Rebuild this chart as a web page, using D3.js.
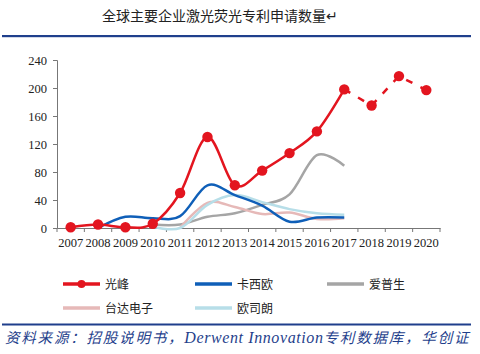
<!DOCTYPE html>
<html>
<head>
<meta charset="utf-8">
<script src="https://cdn.jsdelivr.net/npm/d3@7"></script>
<style>
  html, body { margin: 0; padding: 0; background: #fff; }
  svg { display: block; }
</style>
</head>
<body>
<svg id="chart"></svg>
<script>
// 年份
const years = ["2007","2008","2009","2010","2011","2012","2013","2014","2015","2016","2017","2018","2019","2020"];
const yTicks = [0, 40, 80, 120, 160, 200, 240];

// 各企业数据（null = 无数据）
const guangfeng = [1, 5, 1, 6, 50, 130, 61, 82, 107, 138, 198, 175, 217, 197];
const casio     = [null, 0, 16, 14, 17, 61, 47, 32, 9, 15, 15, null, null, null];
const epson     = [null, null, null, 5, 5, 16, 21, 33, 48, 104, 89, null, null, null];
const delta     = [null, null, null, null, 0, 36, 30, 20, 22, 13, 14, null, null, null];
const osram     = [null, null, null, 2, 0, 33, 47, 37, 27, 21, 19, null, null, null];

const seriesNames = ["光峰", "卡西欧", "爱普生", "台达电子", "欧司朗"];
const seriesColors = ["#e3151f", "#0f5fb8", "#a5a5a5", "#e6b9b8", "#b7dee8"];
const lastSolid = "2017"; // 之后为预测（虚线）

const width = 480, height = 354;
const svg = d3.select("#chart").attr("width", width).attr("height", height);

const serif = "'Liberation Serif', 'Times New Roman', serif";
const cjk = "'Noto Sans CJK SC', sans-serif";

// 标题
svg.append("text")
    .attr("x", 102).attr("y", 21)
    .attr("font-family", cjk)
    .attr("font-size", "14px")
    .attr("fill", "#222")
    .text("全球主要企业激光荧光专利申请数量↵");

// 上下横线
svg.append("rect").attr("x", 2).attr("y", 35).attr("width", 469).attr("height", 2.2).attr("fill", "#1f3f8c");
svg.append("rect").attr("x", 2).attr("y", 323.5).attr("width", 469).attr("height", 2).attr("fill", "#1f3f8c");

// 比例尺
const x = d3.scaleBand().domain(years).range([57, 440]).padding(0);
const y = d3.scaleLinear().domain([0, 240]).range([228, 60]);
const cx = d => x(d) + x.bandwidth() / 2;

// y轴
const yAxis = svg.append("g")
    .attr("transform", "translate(57,0)")
    .call(d3.axisLeft(y).tickValues(yTicks).tickSize(4).tickPadding(6));
yAxis.select(".domain").attr("stroke", "#777");
yAxis.selectAll(".tick line").attr("stroke", "#777");
yAxis.selectAll("text").attr("font-family", serif).attr("font-size", "12.5px").attr("fill", "#222");

// x轴
const xAxis = svg.append("g")
    .attr("transform", "translate(0,228)")
    .call(d3.axisBottom(x).tickSize(0).tickPadding(10));
xAxis.select(".domain").attr("stroke", "#777");
xAxis.selectAll("text").attr("font-family", serif).attr("font-size", "12.5px").attr("fill", "#222");
xAxis.selectAll(".edge")
    .data(years.map(d => x(d)).concat([x.range()[1]]))
    .enter().append("line")
    .attr("x1", d => d).attr("x2", d => d)
    .attr("y1", 0).attr("y2", 4)
    .attr("stroke", "#777");

// 折线
const line = d3.line()
    .defined(d => d.v !== null)
    .x(d => cx(d.year))
    .y(d => y(d.v))
    .curve(d3.curveCardinal.tension(0));

const toPts = arr => years.map((year, i) => ({ year, v: arr[i] }));
const allSeries = [guangfeng, casio, epson, delta, osram];
const drawOrder = [2, 3, 4, 1, 0];

drawOrder.forEach(k => {
    let pts = toPts(allSeries[k]);
    if (k === 0) pts = pts.filter(d => +d.year <= +lastSolid);
    svg.append("path")
        .datum(pts)
        .attr("d", line)
        .attr("fill", "none")
        .attr("stroke", seriesColors[k])
        .attr("stroke-width", 2.5);
});

// 光峰预测部分（虚线）
const future = toPts(guangfeng).filter(d => +d.year >= +lastSolid);
svg.append("path")
    .datum(future)
    .attr("d", d3.line().x(d => cx(d.year)).y(d => y(d.v)))
    .attr("fill", "none")
    .attr("stroke", seriesColors[0])
    .attr("stroke-width", 2.5)
    .attr("stroke-dasharray", "7,9");

svg.selectAll("circle.gf")
    .data(toPts(guangfeng))
    .enter().append("circle")
    .attr("class", "gf")
    .attr("cx", d => cx(d.year))
    .attr("cy", d => y(d.v))
    .attr("r", 5.2)
    .attr("fill", seriesColors[0]);

// 图例
const legendPos = [[63, 284], [195, 284], [327, 284], [63, 308], [195, 308]];
seriesNames.forEach((name, i) => {
    const [lx, ly] = legendPos[i];
    const g = svg.append("g").attr("transform", `translate(${lx},${ly})`);
    g.append("line")
        .attr("x1", 0).attr("x2", 37)
        .attr("stroke", seriesColors[i])
        .attr("stroke-width", 3.5);
    if (i === 0) g.append("circle").attr("cx", 18.5).attr("r", 4).attr("fill", seriesColors[0]);
    g.append("text")
        .attr("x", 42).attr("y", 4.5)
        .attr("font-family", cjk)
        .attr("font-size", "12px")
        .attr("fill", "#222")
        .text(name);
});

// 资料来源
const src = svg.append("text")
    .attr("x", 5).attr("y", 343)
    .attr("font-style", "italic")
    .attr("font-size", "14.5px")
    .attr("fill", "#1f3f8c");
src.append("tspan").attr("font-family", cjk).attr("letter-spacing", 1.8).text("资料来源：招股说明书，");
src.append("tspan").attr("font-family", serif).attr("font-size", "16px").attr("letter-spacing", 0.6).text("Derwent Innovation");
src.append("tspan").attr("font-family", cjk).attr("letter-spacing", 1.8).text("专利数据库，华创证");
</script>
</body>
</html>
